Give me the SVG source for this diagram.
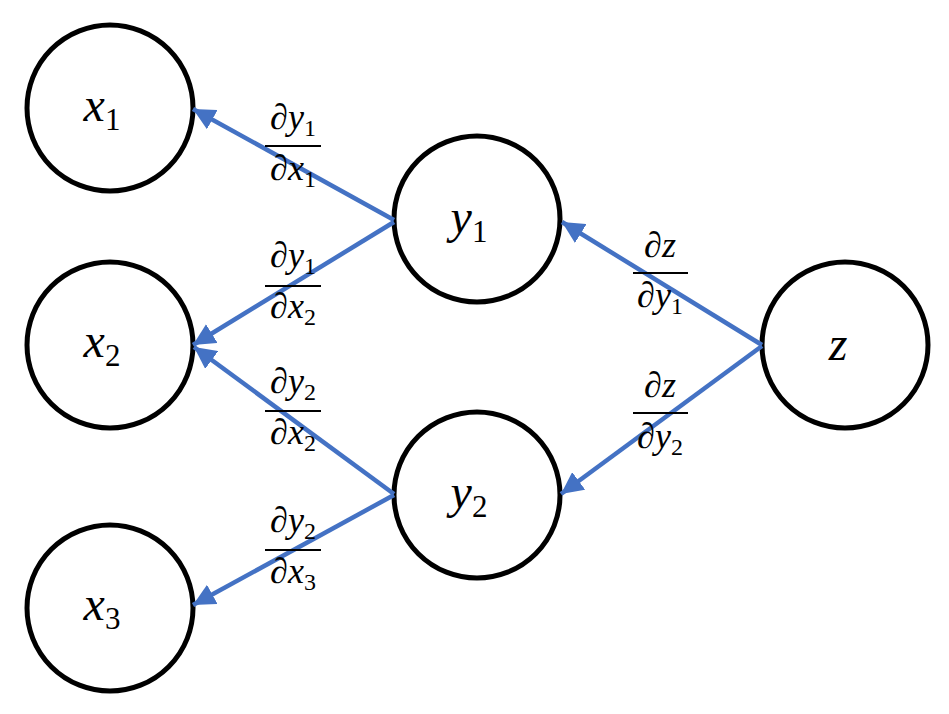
<svg xmlns="http://www.w3.org/2000/svg" width="949" height="714" viewBox="0 0 949 714">
<style>
.node{fill:#fff;stroke:#000;stroke-width:5}
text{font-family:'Liberation Serif','DejaVu Serif',serif;font-style:italic;fill:#000;text-anchor:middle}
.lbl{font-size:48px}
.frac{font-size:36px}
.sub{font-style:normal}
.bar{stroke:#000;stroke-width:2}
.edge{stroke:#4472C4;stroke-width:4.5;fill:none;marker-end:url(#ah)}
</style>
<defs>
<marker id="ah" markerUnits="userSpaceOnUse" markerWidth="24" markerHeight="22" refX="22" refY="11" orient="auto" viewBox="0 0 24 22">
<path d="M0,0 L22,11 L0,22 Z" fill="#4472C4"/>
</marker>
</defs>
<rect width="949" height="714" fill="#fff"/>
<g id="nodes">
<g id="x1"><circle class="node" cx="110" cy="108" r="83"/><text class="lbl" x="102" y="121">x<tspan class="sub" font-size="31" dy="9">1</tspan></text></g>
<g id="x2"><circle class="node" cx="110" cy="345" r="83"/><text class="lbl" x="102" y="357">x<tspan class="sub" font-size="31" dy="9">2</tspan></text></g>
<g id="x3"><circle class="node" cx="110" cy="608" r="83"/><text class="lbl" x="102" y="620">x<tspan class="sub" font-size="31" dy="9">3</tspan></text></g>
<g id="y1"><circle class="node" cx="477" cy="219" r="83"/><text class="lbl" x="469" y="233">y<tspan class="sub" font-size="31" dy="9">1</tspan></text></g>
<g id="y2"><circle class="node" cx="477" cy="495" r="83"/><text class="lbl" x="469" y="508">y<tspan class="sub" font-size="31" dy="9">2</tspan></text></g>
<g id="z"><circle class="node" cx="845" cy="345" r="83"/><text class="lbl" x="838" y="360">z</text></g>
</g>
<g id="connectors">
<line class="edge" x1="394" y1="220" x2="193" y2="109"/>
<line class="edge" x1="394" y1="222" x2="193" y2="345"/>
<line class="edge" x1="394" y1="494" x2="194" y2="347"/>
<line class="edge" x1="394" y1="495" x2="193" y2="605"/>
<line class="edge" x1="762" y1="345" x2="562" y2="222"/>
<line class="edge" x1="762" y1="346" x2="561" y2="494"/>
</g>
<g id="labels">
<g id="f1"><text class="frac" x="293" y="129">∂y<tspan class="sub" font-size="24" dy="7">1</tspan></text><line class="bar" x1="265" y1="146" x2="321" y2="146"/><text class="frac" x="293" y="180">∂x<tspan class="sub" font-size="24" dy="7">1</tspan></text></g>
<g id="f2"><text class="frac" x="293" y="267">∂y<tspan class="sub" font-size="24" dy="7">1</tspan></text><line class="bar" x1="265" y1="286" x2="321" y2="286"/><text class="frac" x="293" y="318">∂x<tspan class="sub" font-size="24" dy="7">2</tspan></text></g>
<g id="f3"><text class="frac" x="293" y="393">∂y<tspan class="sub" font-size="24" dy="7">2</tspan></text><line class="bar" x1="265" y1="411" x2="321" y2="411"/><text class="frac" x="293" y="444">∂x<tspan class="sub" font-size="24" dy="7">2</tspan></text></g>
<g id="f4"><text class="frac" x="293" y="532">∂y<tspan class="sub" font-size="24" dy="7">2</tspan></text><line class="bar" x1="265" y1="550" x2="321" y2="550"/><text class="frac" x="293" y="583">∂x<tspan class="sub" font-size="24" dy="7">3</tspan></text></g>
<g id="f5"><text class="frac" x="660" y="257">∂z</text><line class="bar" x1="633" y1="273" x2="688" y2="273"/><text class="frac" x="660" y="307">∂y<tspan class="sub" font-size="24" dy="7">1</tspan></text></g>
<g id="f6"><text class="frac" x="660" y="397">∂z</text><line class="bar" x1="633" y1="413" x2="688" y2="413"/><text class="frac" x="660" y="448">∂y<tspan class="sub" font-size="24" dy="7">2</tspan></text></g>
</g>
</svg>
